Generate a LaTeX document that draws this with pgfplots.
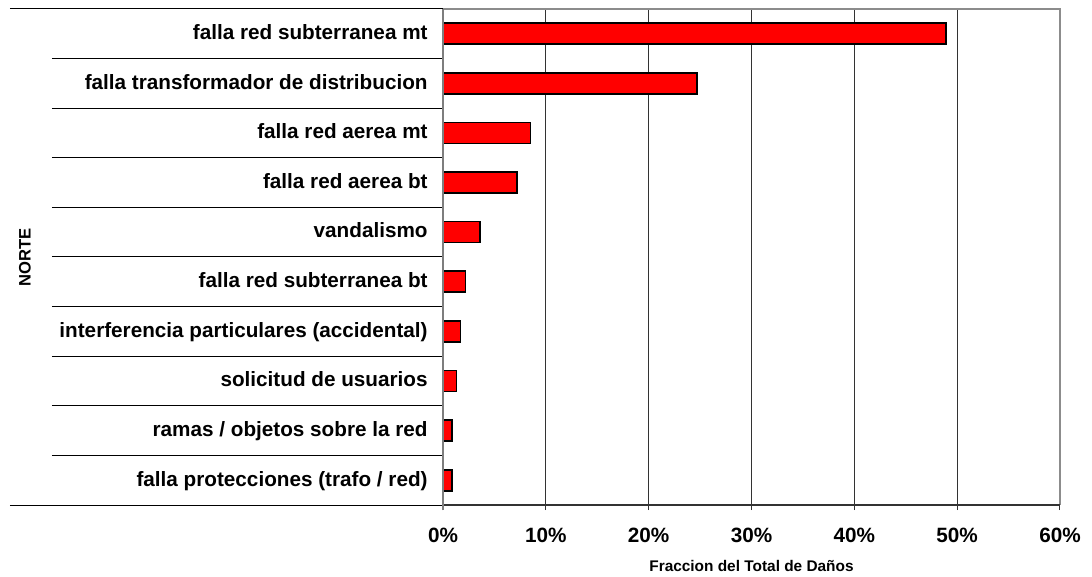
\documentclass[border=0pt]{standalone}
\usepackage{pgfplots}
\pgfplotsset{compat=1.18}
\usepackage{fontspec}
\setmainfont{Liberation Sans}
\definecolor{barred}{RGB}{255,0,0}
\definecolor{frameg}{RGB}{140,140,140}
\begin{document}
\begin{tikzpicture}
\path[use as bounding box] (-221.5pt,-36pt) rectangle (324.5pt,252.5pt);
\begin{axis}[
  at={(0,0)}, anchor=south west,
  scale only axis, width=308.5pt, height=248pt,
  xbar, bar width=10.5pt,
  xmin=0, xmax=60,
  ymin=-0.5, ymax=9.5, y dir=reverse,
  clip=false,
  axis line style={draw=none},
  xtick={0,10,20,30,40,50,60},
  xticklabels={0\%,10\%,20\%,30\%,40\%,50\%,60\%},
  xtick pos=bottom, tick align=outside, major tick length=2.5pt,
  x tick style={draw=black!80, line width=0.5pt},
  xmajorgrids, major grid style={draw=black!80, line width=0.5pt},
  xticklabel style={font=\fontsize{10.35}{12}\selectfont\bfseries, inner sep=0pt, anchor=north, yshift=-9pt},
  ytick={0,...,9},
  yticklabels={falla red subterranea mt, falla transformador de distribucion, falla red aerea mt, falla red aerea bt, vandalismo, falla red subterranea bt, interferencia particulares (accidental), solicitud de usuarios, ramas / objetos sobre la red, falla protecciones (trafo / red)},
  y tick style={draw=none}, ytick pos=left,
  yticklabel style={font=\fontsize{10.35}{12}\selectfont\bfseries, inner sep=0pt, anchor=east, xshift=-5pt, text height=0.8em, text depth=0.22em},
  xlabel={Fraccion del Total de Daños},
  xlabel style={font=\fontsize{7.7}{9}\selectfont\bfseries, at={(axis description cs:0.5,0)}, anchor=north, inner sep=0pt, yshift=-27.5pt},
  ylabel={NORTE},
  ylabel style={font=\fontsize{8.3}{10}\selectfont\bfseries, at={(axis description cs:-0.6775,0.5)}, anchor=center, inner sep=0pt},
]
\addplot[draw=black, line width=0.8pt, fill=barred] coordinates {
 (48.9,0) (24.7,1) (8.5,2) (7.2,3) (3.6,4) (2.2,5) (1.7,6) (1.3,7) (0.9,8) (0.9,9)};
% separators in the label area
\pgfplotsinvokeforeach{0.5,1.5,2.5,3.5,4.5,5.5,6.5,7.5,8.5}{
  \draw[black, line width=0.5pt] ([xshift=-195.5pt]axis cs:0,#1) -- (axis cs:0,#1);
}
\draw[black, line width=0.5pt] ([xshift=-216.5pt]axis cs:0,-0.5) -- (axis cs:0,-0.5);
\draw[black, line width=0.5pt] ([xshift=-216.5pt]axis cs:0,9.5) -- (axis cs:0,9.5);
% frame
\draw[frameg, line width=1pt] (rel axis cs:0,1) -- (rel axis cs:1,1) -- (rel axis cs:1,0);
\draw[black!80, line width=0.75pt] (rel axis cs:0,0) -- (rel axis cs:1,0);
\draw[frameg!90!black, line width=1pt] ([yshift=-2.5pt]rel axis cs:0,0) -- (rel axis cs:0,1);
\end{axis}
\end{tikzpicture}
\end{document}
